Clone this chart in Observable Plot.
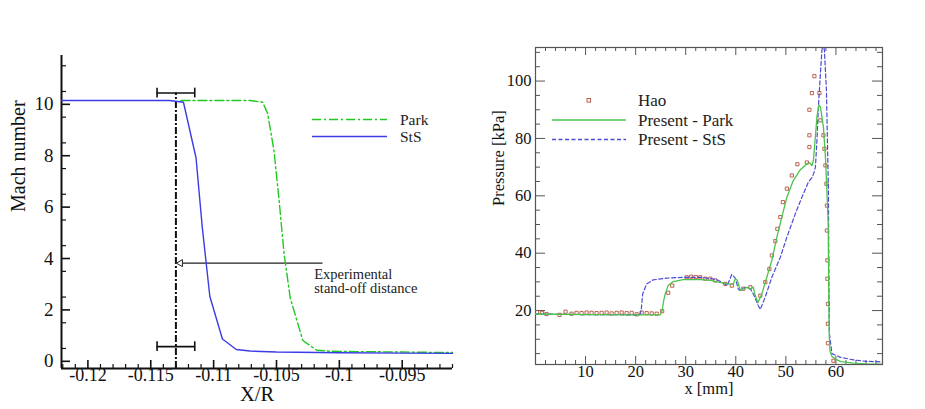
<!DOCTYPE html>
<html><head><meta charset="utf-8">
<script src="https://cdn.jsdelivr.net/npm/d3@7"></script>
<script src="https://cdn.jsdelivr.net/npm/@observablehq/plot@0.6"></script>
<style>
body{margin:0;background:#fff;font-family:"Liberation Serif","DejaVu Serif",serif;}
#wrap{position:relative;width:925px;height:409px;overflow:hidden;background:#fff;}
#wrap > svg{position:absolute;}
#wrap svg text{font-family:"Liberation Serif","DejaVu Serif",serif !important;}
</style></head><body><div id="wrap"></div>
<script>
// ---------- Left panel: Mach number vs X/R ----------
const stsLX = [-0.1221, -0.1135, -0.1124, -0.1114, -0.1109, -0.1103, -0.1093, -0.1082, -0.1071, -0.1050, -0.1000, -0.0950, -0.0910];
const stsLY = [10.15, 10.15, 10.08, 7.92, 5.2, 2.52, 0.87, 0.46, 0.40, 0.36, 0.33, 0.32, 0.31];
const parkLX = [-0.1126, -0.1071, -0.1061, -0.1057, -0.1052, -0.1048, -0.1044, -0.1039, -0.1029, -0.1018, -0.1007, -0.0950, -0.0910];
const parkLY = [10.15, 10.15, 10.08, 9.64, 8.2, 6.3, 4.2, 2.45, 0.81, 0.43, 0.39, 0.36, 0.34];
const expX = -0.1130;          // experimental stand-off distance
const expHalf = 0.0015;        // its uncertainty
const errBarY = [10.44, 0.57]; // heights of the two error bars
const arrowY = 3.82, arrowFromX = -0.1013;
const noteX = -0.1020, noteY = 3.62;
const noteText = "Experimental\nstand-off distance";
const xTicksL = [-0.12, -0.115, -0.11, -0.105, -0.1, -0.095];
const yTicksL = [0, 2, 4, 6, 8, 10];
const xDomL = [-0.1221, -0.0910], yDomL = [-0.28, 11.9];
const seriesL = ["Park", "StS"];

// ---------- Right panel: Pressure vs x ----------
const parkRX = [0, 10, 20, 24.9, 25.3, 25.6, 25.9, 26.5, 27.5, 29.5, 33, 35, 36.5, 38.5, 39.5, 39.9, 40.3, 40.9, 41.5, 42.2, 43.0, 43.5, 43.8, 44.4, 45.2, 46.2, 47.2, 48.2, 49.2, 50.2, 51.5, 52.9, 54.2, 54.8, 55.2, 55.5, 55.9, 56.2, 56.6, 56.9, 57.5, 57.9, 58.2, 58.45, 58.55, 58.65, 58.8, 59.2, 60, 61, 63.5, 66, 69.3];
const parkRY = [18.8, 18.6, 18.5, 18.5, 20, 23.5, 25.8, 28.7, 30.1, 30.8, 30.8, 30.5, 29.9, 29.3, 29.2, 31.1, 30.6, 27.0, 27.6, 28.1, 27.6, 28.2, 25.8, 22.7, 25.8, 31.6, 37.5, 45.6, 52.6, 59.5, 65.4, 69.1, 71.2, 71.5, 70.5, 72.4, 80.5, 87.5, 91.6, 91.0, 84, 73.5, 61.9, 50, 30, 12, 6, 4, 3, 2.2, 1.7, 1.4, 1.3];
const stsRX = [0, 10, 20.8, 21.1, 21.4, 22.2, 23.5, 26.2, 29.5, 33, 36.2, 38.3, 39.2, 39.9, 40.5, 40.8, 41.9, 42.9, 43.5, 44.5, 44.9, 45.9, 47.2, 48.9, 50.2, 51.9, 53.2, 54.5, 55.3, 55.6, 55.9, 56.2, 56.5, 56.9, 57.2, 57.45, 57.7, 58.1, 58.3, 58.5, 58.6, 58.7, 59.2, 60.9, 63.5, 66, 69.3];
const stsRY = [18.8, 18.6, 18.5, 20, 25.8, 29.3, 30.7, 31.3, 31.6, 31.6, 30.8, 28.8, 32.6, 31.3, 27.5, 27, 28.1, 27.6, 25.8, 21.7, 20.4, 24.8, 31.6, 38.6, 45.6, 53.8, 59.5, 64.8, 66.5, 68, 70, 79, 91, 102.6, 110.7, 113, 110.7, 96.8, 79.3, 61.9, 30, 12, 5, 3.7, 2.8, 2.3, 2.1];
const haoX = [0.3, 1.3, 2.2, 4.8, 6.0, 7.2, 8.2, 9.2, 10.2, 11.2, 12.2, 13.2, 14.2, 15.2, 16.2, 17.2, 18.2, 19.2, 20.2, 21.2, 22.2, 23.2, 24.2, 25.3, 26.5, 27.3, 30.2, 31.1, 32.0, 32.9, 33.9, 34.9, 35.9, 37.9, 39.2, 41.5, 42.9, 44.9, 45.9, 46.7, 47.2, 47.9, 48.3, 48.9, 49.4, 50.2, 51.2, 52.3, 54.2, 54.7, 54.7, 54.7, 55.2, 55.7, 56.7, 56.9, 57.5, 57.7, 57.9, 58.1, 58.2, 58.2, 58.3, 58.3, 58.4, 58.4, 58.4, 59.5];
const haoY = [19.5, 19.2, 18.8, 18.5, 19.6, 18.9, 19.2, 19.1, 19.3, 19.2, 19.1, 19.2, 19.3, 19.0, 19.2, 19.3, 19.1, 19.2, 18.7, 19.3, 19.1, 19.0, 18.9, 19.8, 26.2, 28.7, 31.6, 31.8, 31.7, 31.6, 31.1, 31.1, 30.5, 29.3, 28.7, 27.6, 28.1, 25.2, 29.9, 34.5, 39.2, 44.2, 48.5, 52.6, 57.8, 62.5, 67.1, 71.0, 71.6, 77, 81.1, 90, 95.8, 101.7, 95.8, 86.3, 81.1, 76.4, 70.6, 64.2, 56.6, 47.9, 37.5, 31.1, 22.3, 15.4, 8.6, 2.5];
const xTicksR = [10, 20, 30, 40, 50, 60];
const yTicksR = [20, 40, 60, 80, 100];
const xDomR = [0, 69.3], yDomR = [1.2, 111.7];
const seriesR = ["Hao", "Present - Park", "Present - StS"];

// ---------- helpers ----------
const rows = (xs, ys) => xs.map((x, i) => ({x, y: ys[i]}));
const F = '"Liberation Serif", "DejaVu Serif", serif';
const gL = "#22c822", bL = "#3c3ce6", gR = "#4cc44c", bR = "#4b4bd6", rH = "#b5503f";
const wrap = document.getElementById("wrap");

// Left geometry
const WL = 470, HL = 409, mL = {l: 61, r: 18, t: 55, b: 41};
const iwL = WL - mL.l - mL.r, ihL = HL - mL.t - mL.b;
const minorXL = d3.range(-0.122, -0.0905, 0.001).map(v => +v.toFixed(3)).filter(v => !xTicksL.some(t => Math.abs(t - v) < 1e-6));
const minorYL = d3.range(0.5, 12, 1);

const left = Plot.plot({
  width: WL, height: HL,
  marginLeft: mL.l, marginRight: mL.r, marginTop: mL.t, marginBottom: mL.b,
  x: {domain: xDomL}, y: {domain: yDomL},
  style: {fontFamily: F, fontSize: "18px", color: "#111", background: "transparent", overflow: "visible"},
  marks: [
    Plot.ruleX(minorXL, {insetTop: ihL - 4, stroke: "#111", strokeWidth: 1.2}),
    Plot.ruleX(xTicksL, {insetTop: ihL - 8, stroke: "#111", strokeWidth: 1.6}),
    Plot.ruleY(minorYL, {insetRight: iwL - 5, stroke: "#111", strokeWidth: 1.2}),
    Plot.ruleY(yTicksL, {insetRight: iwL - 9, stroke: "#111", strokeWidth: 1.6}),
    Plot.ruleX([xDomL[0]], {stroke: "#111", strokeWidth: 2}),
    Plot.ruleY([yDomL[0]], {stroke: "#111", strokeWidth: 2}),
    Plot.axisX({ticks: xTicksL, tickSize: 0, tickPadding: 0, tickFormat: d => String(d), label: null, fontSize: 18}),
    Plot.axisY({ticks: yTicksL, tickSize: 0, tickPadding: 8, label: null, fontSize: 19}),
    Plot.text(["X/R"], {frameAnchor: "bottom", dy: 32, fontSize: 20.5}),
    Plot.text(["Mach number"], {frameAnchor: "left", rotate: -90, dx: -43, fontSize: 20}),
    // experimental stand-off distance and its uncertainty
    Plot.ruleX([expX], {y1: yDomL[0], y2: errBarY[0], stroke: "#111", strokeWidth: 2, strokeDasharray: "7,2,2,2"}),
    Plot.ruleY(errBarY, {x1: expX - expHalf, x2: expX + expHalf, stroke: "#111", strokeWidth: 1.6}),
    Plot.ruleX(errBarY.flatMap(y => [{x: expX - expHalf, y}, {x: expX + expHalf, y}]), {x: "x", y1: d => d.y - 0.19, y2: d => d.y + 0.19, stroke: "#111", strokeWidth: 1.6}),
    Plot.ruleY([arrowY], {x1: expX, x2: arrowFromX, stroke: "#222", strokeWidth: 1.3}),
    Plot.dot([{x: expX, y: arrowY}], {x: "x", y: "y", symbol: "triangle", rotate: -90, r: 2.6, dx: 4.5, fill: "white", stroke: "#222", strokeWidth: 1}),
    Plot.text([{x: noteX, y: noteY, t: noteText}], {x: "x", y: "y", text: "t", textAnchor: "start", lineAnchor: "top", fontSize: 14.5, lineHeight: 1.0, fill: "#222"}),
    // curves
    Plot.line(rows(parkLX, parkLY), {x: "x", y: "y", stroke: gL, strokeWidth: 1.4, strokeDasharray: "9,3,2,3"}),
    Plot.line(rows(stsLX, stsLY), {x: "x", y: "y", stroke: bL, strokeWidth: 1.4})
  ]
});
left.style.left = "0px"; left.style.top = "0px";
wrap.appendChild(left);

// Right geometry
const WR = 455, HR = 409, mR = {l: 65, r: 43, t: 47, b: 45};
const iwR = WR - mR.l - mR.r, ihR = HR - mR.t - mR.b;
const minorXR = d3.range(2, 69, 2).filter(v => v % 10 !== 0);
const minorYR = d3.range(5, 111, 5).filter(v => v % 20 !== 0);
const ax = "#555";

const right = Plot.plot({
  width: WR, height: HR,
  marginLeft: mR.l, marginRight: mR.r, marginTop: mR.t, marginBottom: mR.b,
  x: {domain: xDomR}, y: {domain: yDomR},
  style: {fontFamily: F, fontSize: "16.5px", color: "#111", background: "transparent", overflow: "visible"},
  marks: [
    Plot.ruleX(minorXR, {insetTop: ihR - 4, stroke: ax}),
    Plot.ruleX(xTicksR, {insetTop: ihR - 8, stroke: ax}),
    Plot.ruleX(minorXR, {insetBottom: ihR - 4, stroke: ax}),
    Plot.ruleX(xTicksR, {insetBottom: ihR - 8, stroke: ax}),
    Plot.ruleY(minorYR, {insetRight: iwR - 5, stroke: ax}),
    Plot.ruleY(yTicksR, {insetRight: iwR - 10, stroke: ax}),
    Plot.ruleY(minorYR, {insetLeft: iwR - 5, stroke: ax}),
    Plot.ruleY(yTicksR, {insetLeft: iwR - 10, stroke: ax}),
    Plot.frame({stroke: ax, strokeWidth: 1.2}),
    Plot.axisX({ticks: xTicksR, tickSize: 0, tickPadding: 1, label: null, fontSize: 16.5}),
    Plot.axisY({ticks: yTicksR, tickSize: 0, tickPadding: 4, label: null, fontSize: 16.5}),
    Plot.text(["x [mm]"], {frameAnchor: "bottom", dy: 29, fontSize: 16.5}),
    Plot.text(["Pressure [kPa]"], {frameAnchor: "left", rotate: -90, dx: -37, fontSize: 16.5}),
    Plot.dot(rows(haoX, haoY), {x: "x", y: "y", symbol: "square", r: 1.8, stroke: rH, strokeWidth: 0.9, fill: "none", clip: true}),
    Plot.line(rows(stsRX, stsRY), {x: "x", y: "y", stroke: bR, strokeWidth: 1.2, strokeDasharray: "4,2.5", clip: true}),
    Plot.line(rows(parkRX, parkRY), {x: "x", y: "y", stroke: gR, strokeWidth: 1.3, clip: true})
  ]
});
right.style.left = "470px"; right.style.top = "0px";
wrap.appendChild(right);

// ---------- Legends ----------
const leg = d3.select(wrap).append("svg").attr("width", 925).attr("height", 409)
  .style("left", "0px").style("top", "0px").style("pointer-events", "none");
// left legend
const legL = [{name: seriesL[0], stroke: gL, dash: "9,3,2,3", y: 119.5}, {name: seriesL[1], stroke: bL, dash: null, y: 136.5}];
legL.forEach(d => {
  leg.append("line").attr("x1", 312).attr("x2", 387).attr("y1", d.y).attr("y2", d.y)
    .attr("stroke", d.stroke).attr("stroke-width", 1.4).attr("stroke-dasharray", d.dash);
  leg.append("text").attr("x", 400).attr("y", d.y + 5.3).attr("font-size", 15.5).attr("fill", "#222").text(d.name);
});
// right legend
const ys = [100.5, 120, 139.5];
leg.append("rect").attr("x", 587).attr("y", ys[0] - 2).attr("width", 3.6).attr("height", 3.6)
  .attr("fill", "none").attr("stroke", rH).attr("stroke-width", 0.9);
leg.append("line").attr("x1", 552).attr("x2", 626).attr("y1", ys[1]).attr("y2", ys[1]).attr("stroke", gR).attr("stroke-width", 1.3);
leg.append("line").attr("x1", 552).attr("x2", 626).attr("y1", ys[2]).attr("y2", ys[2]).attr("stroke", bR).attr("stroke-width", 1.3).attr("stroke-dasharray", "4,2.5");
seriesR.forEach((s, i) => {
  leg.append("text").attr("x", 638).attr("y", ys[i] + 5.7).attr("font-size", 17).attr("fill", "#222").text(s);
});
</script>
</body></html>
